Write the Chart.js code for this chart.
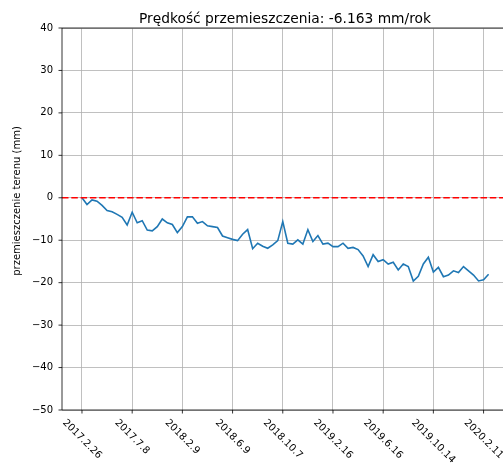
<!DOCTYPE html>
<html>
<head>
<meta charset="utf-8">
<script src="https://cdn.jsdelivr.net/npm/chart.js@4/dist/chart.umd.min.js"></script>
<style>
html,body{margin:0;padding:0;background:#fff;overflow:hidden;}
canvas{display:block;}
</style>
</head>
<body>
<canvas id="c" width="503" height="468"></canvas>
<script>
const chartTitle = 'Prędkość przemieszczenia: -6.163 mm/rok';
const yAxisTitle = 'przemieszczenie terenu (mm)';
const tickIndices = [0, 10, 20, 30, 40, 50, 60, 70, 80];
const tickLabels = ['2017.2.26', '2017.7.8', '2018.2.9', '2018.6.9', '2018.10.7', '2019.2.16', '2019.6.16', '2019.10.14', '2020.2.11'];
const yTicks = [-50, -40, -30, -20, -10, 0, 10, 20, 30, 40];
const displacement = [
  0, -1.6, -0.5, -0.8, -1.8, -3.0, -3.3, -3.9, -4.6, -6.4,
  -3.4, -5.9, -5.4, -7.6, -7.8, -6.8, -5.0, -5.9, -6.3, -8.2,
  -6.8, -4.5, -4.5, -6.0, -5.6, -6.6, -6.8, -7.0, -9.0, -9.4,
  -9.8, -10.1, -8.6, -7.5, -12.0, -10.7, -11.4, -11.9, -11.1, -10.1,
  -5.6, -10.7, -10.9, -9.9, -10.9, -7.5, -10.3, -8.9, -10.9, -10.7,
  -11.5, -11.5, -10.7, -11.9, -11.7, -12.2, -13.7, -16.2, -13.4, -15.0,
  -14.6, -15.6, -15.2, -17.0, -15.6, -16.2, -19.6, -18.5, -15.6, -14.0,
  -17.5, -16.4, -18.6, -18.2, -17.2, -17.6, -16.2, -17.2, -18.2, -19.6,
  -19.3, -18.0
];
const referenceLevel = 0;

const X_MIN = -3.98, X_MAX = 83.87;
const FONT = '"DejaVu Sans", sans-serif';

const linePoints = displacement.map((v, i) => ({x: i, y: v}));
const refPoints = [{x: X_MIN, y: referenceLevel}, {x: X_MAX, y: referenceLevel}];

const framePlugin = {
  id: 'frame',
  afterDraw(chart) {
    const ctx = chart.ctx;
    const a = chart.chartArea;
    const xs = chart.scales.x, ys = chart.scales.y;
    ctx.save();
    ctx.strokeStyle = '#000';
    ctx.lineWidth = 0.8;
    ctx.beginPath();
    ctx.moveTo(a.left, a.top); ctx.lineTo(a.right + 2, a.top);
    ctx.moveTo(a.left, a.top); ctx.lineTo(a.left, a.bottom);
    ctx.moveTo(a.left, a.bottom); ctx.lineTo(a.right + 2, a.bottom);
    tickIndices.forEach(t => {
      const px = xs.getPixelForValue(t);
      ctx.moveTo(px, a.bottom); ctx.lineTo(px, a.bottom + 3.5);
    });
    yTicks.forEach(t => {
      const py = ys.getPixelForValue(t);
      ctx.moveTo(a.left, py); ctx.lineTo(a.left - 3.5, py);
    });
    ctx.stroke();
    ctx.fillStyle = '#000';
    ctx.font = '10px ' + FONT;
    ctx.textAlign = 'center';
    ctx.textBaseline = 'middle';
    const h = 11.6;
    tickIndices.forEach((t, i) => {
      const px = xs.getPixelForValue(t);
      const w = ctx.measureText(tickLabels[i]).width;
      const bb = (w + h) * Math.SQRT1_2;
      ctx.save();
      ctx.translate(px, a.bottom + 7 + bb / 2);
      ctx.rotate(Math.PI / 4);
      ctx.fillText(tickLabels[i], 0, 0);
      ctx.restore();
    });
    ctx.font = '13.8px ' + FONT;
    ctx.textAlign = 'center';
    ctx.textBaseline = 'alphabetic';
    ctx.fillText(chartTitle, 285, 22.5);
    ctx.font = '10px ' + FONT;
    ctx.save();
    ctx.translate(17, 201);
    ctx.rotate(-Math.PI / 2);
    ctx.textBaseline = 'middle';
    ctx.fillText(yAxisTitle, 0, 0);
    ctx.restore();
    ctx.restore();
  }
};

new Chart(document.getElementById('c'), {
  type: 'line',
  data: {
    datasets: [
      {
        data: refPoints,
        borderColor: '#ff0000',
        borderWidth: 1.6,
        borderDash: [6.5, 2.8],
        pointRadius: 0,
        fill: false
      },
      {
        data: linePoints,
        borderColor: '#1f77b4',
        borderWidth: 1.6,
        pointRadius: 0,
        tension: 0,
        fill: false
      }
    ]
  },
  options: {
    responsive: false,
    animation: false,
    devicePixelRatio: 1,
    events: [],
    layout: {padding: {top: 28, right: 0, left: 0, bottom: 0}},
    plugins: {legend: {display: false}, tooltip: {enabled: false}, title: {display: false}},
    scales: {
      x: {
        type: 'linear',
        min: X_MIN,
        max: X_MAX,
        afterBuildTicks(scale) { scale.ticks = tickIndices.map(v => ({value: v})); },
        afterFit(scale) { scale.height = 58; },
        ticks: {display: false},
        grid: {color: '#b0b0b0', lineWidth: 0.8, drawTicks: false},
        border: {display: false}
      },
      y: {
        type: 'linear',
        min: -50,
        max: 40,
        afterBuildTicks(scale) { scale.ticks = yTicks.map(v => ({value: v})); },
        afterFit(scale) { scale.width = 62; },
        ticks: {
          padding: 9,
          color: '#000',
          font: {family: FONT, size: 10},
          callback: v => String(v).replace('-', '\u2212')
        },
        grid: {color: '#b0b0b0', lineWidth: 0.8, drawTicks: false},
        border: {display: false}
      }
    }
  },
  plugins: [framePlugin]
});
</script>
</body>
</html>
